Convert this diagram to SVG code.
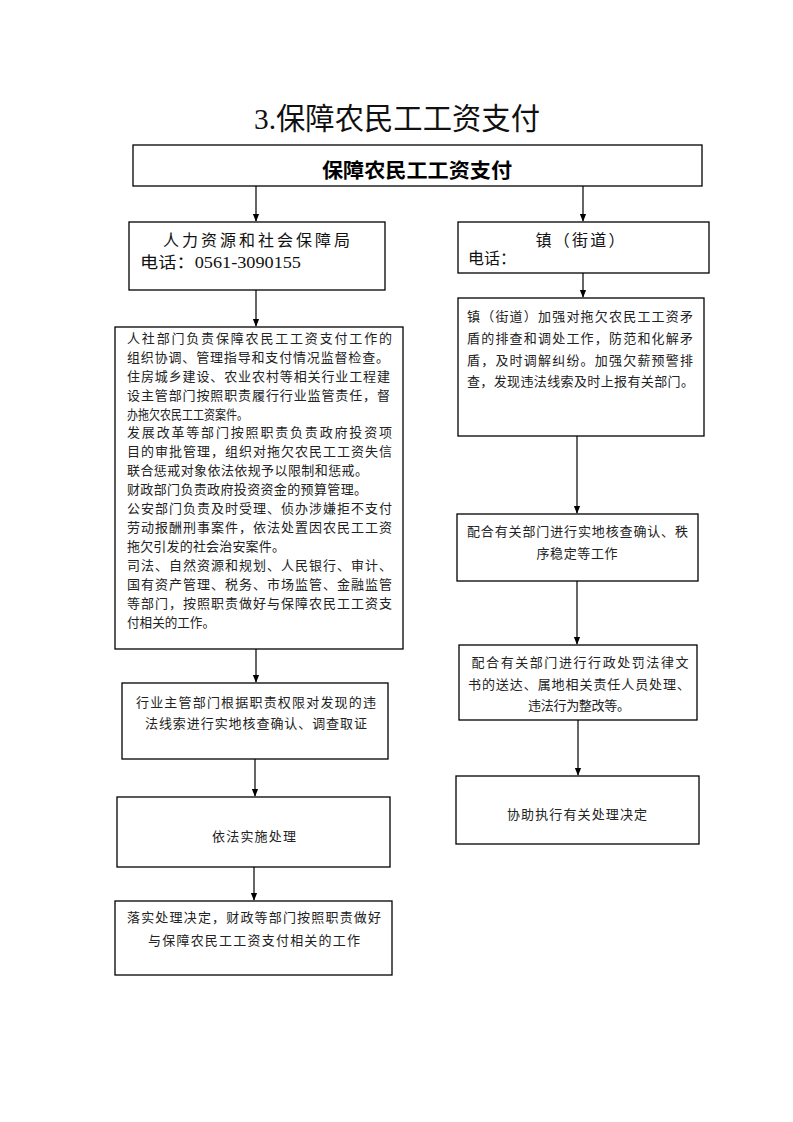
<svg xmlns="http://www.w3.org/2000/svg" width="793" height="1122" viewBox="0 0 793 1122">
<style>
.box{fill:#fff;stroke:#000;stroke-width:1.3}
.t{font-family:"Liberation Serif","Noto Sans CJK SC",serif;font-size:13px;fill:#222}
.m{font-family:"Liberation Serif","Noto Sans CJK SC",serif;font-size:16px;fill:#111}
.c{text-anchor:middle}
.ln{stroke:#000;stroke-width:1.2;fill:none;marker-end:url(#ah)}
</style>
<defs>
<marker id="ah" markerUnits="userSpaceOnUse" markerWidth="8" markerHeight="10" refX="9" refY="4" orient="auto" viewBox="0 0 10 8">
<path d="M0,0 L10,4 L0,8 Z" fill="#000"/>
</marker>
</defs>
<rect width="793" height="1122" fill="#fff"/>
<text x="397" y="129" text-anchor="middle" font-family="Liberation Serif,'Noto Sans CJK SC',serif" font-size="30" fill="#111" textLength="286" lengthAdjust="spacingAndGlyphs">3.保障农民工工资支付</text>

<g id="connectors">
<path class="ln" d="M256,186 V221"/>
<path class="ln" d="M583,186 V221"/>
<path class="ln" d="M256,290 V326"/>
<path class="ln" d="M583,273 V297"/>
<path class="ln" d="M577,436 V513"/>
<path class="ln" d="M577,581 V644"/>
<path class="ln" d="M578,720 V775"/>
<path class="ln" d="M256,649 V682"/>
<path class="ln" d="M255,759 V796"/>
<path class="ln" d="M254,867 V900"/>
</g>

<g id="top">
<rect class="box" x="133" y="145" width="569" height="41"/>
<text x="417" y="178" text-anchor="middle" font-family="Liberation Sans,'Noto Sans CJK SC',sans-serif" font-size="20" font-weight="bold" fill="#000" textLength="190" lengthAdjust="spacingAndGlyphs">保障农民工工资支付</text>
</g>

<g id="hrss">
<rect class="box" x="129" y="222" width="256" height="68"/>
<text class="m" x="163" y="246" textLength="187" lengthAdjust="spacing">人力资源和社会保障局</text>
<text class="m" x="140" y="268" textLength="161" lengthAdjust="spacingAndGlyphs">电话：0561-3090155</text>
</g>

<g id="town">
<rect class="box" x="458" y="222" width="251" height="51"/>
<text class="m" x="580" y="246" text-anchor="middle" textLength="89" lengthAdjust="spacing">镇（街道）</text>
<text class="m" x="468" y="264">电话：</text>
</g>

<g id="hrss-duties">
<rect class="box" x="115" y="327" width="288" height="322"/>
<text class="t" x="127" y="343" textLength="265" lengthAdjust="spacing">人社部门负责保障农民工工资支付工作的</text>
<text class="t" x="127" y="362" textLength="262" lengthAdjust="spacing">组织协调、管理指导和支付情况监督检查。</text>
<text class="t" x="127" y="381" textLength="263" lengthAdjust="spacing">住房城乡建设、农业农村等相关行业工程建</text>
<text class="t" x="127" y="400" textLength="263" lengthAdjust="spacing">设主管部门按照职责履行行业监管责任，督</text>
<text class="t" x="127" y="419" textLength="121" lengthAdjust="spacingAndGlyphs">办拖欠农民工工资案件。</text>
<text class="t" x="127" y="437" textLength="265" lengthAdjust="spacing">发展改革等部门按照职责负责政府投资项</text>
<text class="t" x="127" y="456" textLength="265" lengthAdjust="spacing">目的审批管理，组织对拖欠农民工工资失信</text>
<text class="t" x="127" y="475" textLength="241" lengthAdjust="spacing">联合惩戒对象依法依规予以限制和惩戒。</text>
<text class="t" x="127" y="494" textLength="240" lengthAdjust="spacing">财政部门负责政府投资资金的预算管理。</text>
<text class="t" x="127" y="513" textLength="265" lengthAdjust="spacing">公安部门负责及时受理、侦办涉嫌拒不支付</text>
<text class="t" x="127" y="532" textLength="265" lengthAdjust="spacing">劳动报酬刑事案件，依法处置因农民工工资</text>
<text class="t" x="127" y="551" textLength="158" lengthAdjust="spacing">拖欠引发的社会治安案件。</text>
<text class="t" x="127" y="570" textLength="265" lengthAdjust="spacing">司法、自然资源和规划、人民银行、审计、</text>
<text class="t" x="127" y="589" textLength="265" lengthAdjust="spacing">国有资产管理、税务、市场监管、金融监管</text>
<text class="t" x="127" y="608" textLength="265" lengthAdjust="spacing">等部门，按照职责做好与保障农民工工资支</text>
<text class="t" x="127" y="627" textLength="88" lengthAdjust="spacingAndGlyphs">付相关的工作。</text>
</g>

<g id="town-duties">
<rect class="box" x="458" y="298" width="246" height="138"/>
<text class="t" x="467" y="321" textLength="226" lengthAdjust="spacing">镇（街道）加强对拖欠农民工工资矛</text>
<text class="t" x="467" y="343" textLength="226" lengthAdjust="spacing">盾的排查和调处工作，防范和化解矛</text>
<text class="t" x="467" y="365" textLength="226" lengthAdjust="spacing">盾，及时调解纠纷。加强欠薪预警排</text>
<text class="t" x="467" y="386" textLength="227" lengthAdjust="spacing">查，发现违法线索及时上报有关部门。</text>
</g>

<g id="town-verify">
<rect class="box" x="457" y="514" width="241" height="67"/>
<text class="t" x="467" y="536" textLength="221" lengthAdjust="spacing">配合有关部门进行实地核查确认、秩</text>
<text class="t c" x="577" y="558" textLength="81" lengthAdjust="spacing">序稳定等工作</text>
</g>

<g id="town-penalty">
<rect class="box" x="459" y="645" width="238" height="75"/>
<text class="t c" x="580" y="667" textLength="217" lengthAdjust="spacing">配合有关部门进行行政处罚法律文</text>
<text class="t c" x="579" y="689" textLength="222" lengthAdjust="spacing">书的送达、属地相关责任人员处理、</text>
<text class="t c" x="579" y="710" textLength="102" lengthAdjust="spacing">违法行为整改等。</text>
</g>

<g id="town-assist">
<rect class="box" x="456" y="776" width="243" height="68"/>
<text class="t c" x="577" y="819" textLength="140" lengthAdjust="spacing">协助执行有关处理决定</text>
</g>

<g id="industry-check">
<rect class="box" x="122" y="683" width="266" height="76"/>
<text class="t c" x="256" y="707" textLength="240" lengthAdjust="spacing">行业主管部门根据职责权限对发现的违</text>
<text class="t c" x="256" y="728" textLength="222" lengthAdjust="spacing">法线索进行实地核查确认、调查取证</text>
</g>

<g id="handle">
<rect class="box" x="117" y="797" width="273" height="70"/>
<text class="t c" x="254" y="841" textLength="84" lengthAdjust="spacing">依法实施处理</text>
</g>

<g id="implement">
<rect class="box" x="115" y="901" width="277" height="74"/>
<text class="t c" x="254" y="922" textLength="254" lengthAdjust="spacing">落实处理决定，财政等部门按照职责做好</text>
<text class="t c" x="254" y="945" textLength="212" lengthAdjust="spacing">与保障农民工工资支付相关的工作</text>
</g>
</svg>
